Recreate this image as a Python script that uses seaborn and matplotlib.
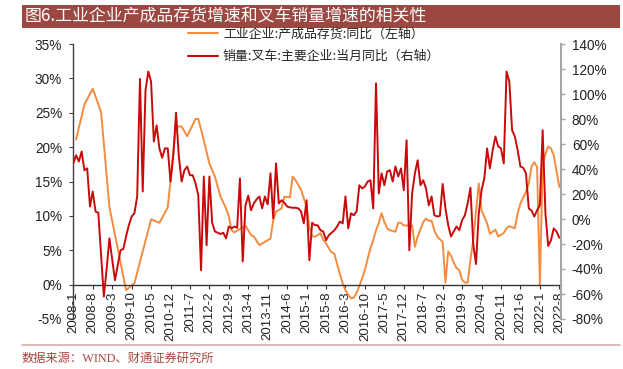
import numpy as np
import pandas as pd
import matplotlib
matplotlib.use("Agg")
import matplotlib.pyplot as plt
import seaborn as sns
from matplotlib.patches import Rectangle
from matplotlib.lines import Line2D

# ---------------- data ----------------
months = [f"{d.year}-{d.month}" for d in pd.date_range("2008-01-01", "2022-08-01", freq="MS")]
tick_labels = months[::7]

title = "图6.工业企业产成品存货增速和叉车销量增速的相关性"
label_inv = "工业企业:产成品存货:同比（左轴）"
label_fork = "销量:叉车:主要企业:当月同比（右轴）"
source = "数据来源：WIND、财通证券研究所"

N = None
# 工业企业:产成品存货:同比 (%), left axis (None = not reported that month)
inventory_yoy = [
    N, 21.1, N, N, 26.2, N, N, 28.5, N, N,
    25.1, N, N, 11.3, N, N, N, N, N, -0.8,
    N, N, 0.2, N, N, N, N, N, 9.5, N,
    N, 9.0, N, N, 11.2, N, N, 23.0, N, 23.0,
    N, 21.6, N, N, 24.1, 24.1, N, 21.0, N, 17.6,
    N, 15.7, N, 12.8, N, 11.1, 9.9, 7.9, 7.6, N,
    N, N, 8.6, N, 7.2, 7.0, N, 5.75, N, N,
    N, 6.7, 9.4, 10.6, N, 11.1, 12.8, N, 12.7, 15.7,
    15.2, N, 13.8, N, 11.3, 8.4, 7.0, 7.0, 7.2, 7.5,
    6.5, 6.0, 5.3, 4.7, 4.5, 3.0, 1.5, 0.2, -0.8, -1.5,
    -2.0, -1.9, -1.2, -0.2, 0.9, 2.1, 3.8, 5.3, 6.5, 7.9,
    9.0, 10.4, 9.1, 8.2, 7.9, 7.8, 7.7, 9.0, 9.0, 8.6,
    8.6, 8.6, 8.6, 5.5, 7.0, 8.0, 9.1, 9.6, 9.3, 9.3,
    7.9, 7.0, 6.6, 6.2, 0.3, 4.8, 4.2, 3.2, 2.4, 2.1,
    0.7, 0.3, 0.3, 3.6, 6.5, N, 14.7, 10.8, N, 8.9,
    7.4, N, 8.0, 7.0, N, 7.5, 8.2, 8.5, N, 8.2,
    10.4, 11.8, N, 13.5, 14.7, 17.2, 17.8, 17.1, 0.0, 17.5,
    19.0, 20.1, 19.8, 18.8, N, 14.2,
]

# 销量:叉车:主要企业:当月同比 (%), right axis
forklift_yoy = [
    44.5, 51, 46, 54, 39, 40.5, 10, 22, 6, 5,
    -28, -62, -40, -15.5, -32, -49, -37, -25, -24, -14,
    -5, 2, 4.5, 18, 112, 22, 103, 118, 110, 62,
    75, 56.5, 49, 56.5, 56.5, 30, 51, 85, 50, 30,
    39, 42, 35, 35, 28.5, 19, -41, 34, -21, 34,
    -3, -10, -11, -12, -11, -15.5, -6, -7.5, -6, -7,
    32.5, -34, 11, 18.7, 7, 12.5, 15.7, 18, 8.5, 18,
    11.7, 36.5, 0.5, 44.5, 12.5, 15, 13, 10, 9.3, 9,
    9, 8.5, 6, -3.5, 15, -33, -3, -5, -5, -9,
    -10, -17, -13, -11, -9, -6, -2, -3.5, 18, -7.5,
    4.5, 3, 6, 27, 24.5, 26, 30, 31, 8.5, 108.5,
    20.5, 36.5, 27, 38, 39, 30, 42, 34, 40.5, 23,
    63, -25, 20.5, 36.5, 47, 27, 31, 24.5, 11, 18,
    3, 2, 2.5, 28, 8.5, -5, -14, -10, -6, -9,
    -1, 3, 12.5, 25, -20, -36, 4.5, 23, 32.5, 56.5,
    40.5, 55, 66, 58, 56.5, 44.5, 118, 110, 71, 66,
    55, 42, 41, 36.5, 8.5, 6.7, 2, 7, 11, 71,
    4.5, -21.6, -17, -7.5, -10, -15,
]

left_ticks = list(range(-5, 36, 5))
right_ticks = list(range(-80, 141, 20))

ORANGE = "#F58B3D"
RED = "#C80A0A"

# ---------------- style ----------------
sns.set_theme(style="ticks")
plt.rcParams["font.family"] = ["Liberation Sans", "Noto Sans CJK SC"]
plt.rcParams["axes.unicode_minus"] = False

W, H = 623, 369
fig = plt.figure(figsize=(W / 100, H / 100), dpi=100)
fig.patch.set_facecolor("white")

ax_l, ax_r, ax_t, ax_b = 73.3, 560.7, 44, 319
ax = fig.add_axes([ax_l / W, 1 - ax_b / H, (ax_r - ax_l) / W, (ax_b - ax_t) / H])
ax.set_facecolor("none")

df_inv = pd.DataFrame({"idx": np.arange(len(months)),
                       "val": pd.to_numeric(pd.Series(inventory_yoy), errors="coerce")}).dropna()
df_fork = pd.DataFrame({"idx": np.arange(len(months)), "val": forklift_yoy})

sns.lineplot(data=df_inv, x="idx", y="val", ax=ax, color=ORANGE, lw=1.4, legend=False)
ax2 = ax.twinx()
sns.lineplot(data=df_fork, x="idx", y="val", ax=ax2, color=RED, lw=1.4, legend=False)

ax.set_xlim(0, 175.5)
ax.set_ylim(-5, 35)
ax2.set_ylim(-80, 140)
for a in (ax, ax2):
    a.set_xlabel("")
    a.set_ylabel("")
    a.grid(False)

ax.spines["top"].set_visible(False)
ax.spines["right"].set_visible(False)
ax.spines["bottom"].set_position(("data", 0))
ax.spines["bottom"].set_color("#333333")
ax.spines["bottom"].set_linewidth(1.0)
ax.spines["left"].set_color("#404040")
ax.spines["left"].set_linewidth(1.0)
for s in ("top", "left", "bottom"):
    ax2.spines[s].set_visible(False)
ax2.spines["right"].set_color("#A6A6A6")
ax2.spines["right"].set_linewidth(1.5)

ax.tick_params(axis="x", direction="out", length=3, width=0.8, pad=2, color="#333333",
               labelrotation=90, labelsize=9.5, labelcolor="#222222")
ax.tick_params(axis="y", direction="out", length=3, width=0.8, pad=5, color="#404040",
               labelsize=9.8, labelcolor="#222222")
ax2.tick_params(axis="y", direction="out", length=3, width=1.0, pad=5, color="#A6A6A6",
                labelsize=9.8, labelcolor="#222222")

ax.set_xticks(range(0, len(months), 7))
ax.set_xticklabels(tick_labels)
ax.set_yticks(left_ticks)
ax.set_yticklabels([f"{v}%" for v in left_ticks])
ax2.set_yticks(right_ticks)
ax2.set_yticklabels([f"{v}%" for v in right_ticks])
for t in ax.get_xticklabels():
    t.set_rotation(90)
    t.set_ha("center")
    t.set_va("top")

# legend
handles = [Line2D([], [], color=ORANGE, lw=1.5), Line2D([], [], color=RED, lw=1.5)]
fig.legend(handles, [label_inv, label_fork], loc="upper left",
           bbox_to_anchor=(188 / W, 1 - 28 / H), frameon=False,
           prop={"family": ["Noto Sans CJK SC"], "size": 9.3},
           handlelength=2.3, handletextpad=0.4, labelspacing=0.7,
           borderpad=0, borderaxespad=0)

# title bar
fig.add_artist(Rectangle((22 / W, 1 - 28 / H), 598 / W, 23 / H,
                         transform=fig.transFigure, facecolor="#9C4742",
                         edgecolor="none"))
fig.text(25 / W, 1 - 16.5 / H, title, color="white", fontsize=12.2,
         va="center", ha="left", family=["Noto Sans CJK SC"])

# bottom rule and source
fig.add_artist(Line2D([22 / W, 620 / W], [1 - 345 / H, 1 - 345 / H],
                      transform=fig.transFigure, color="#D9AAAA", lw=1.2))
fig.text(22 / W, 1 - 359 / H, source, color="#A9473F", fontsize=8.8,
         va="center", ha="left", family=["Liberation Serif", "Noto Sans CJK SC"])

fig.savefig("out.png", dpi=100)
